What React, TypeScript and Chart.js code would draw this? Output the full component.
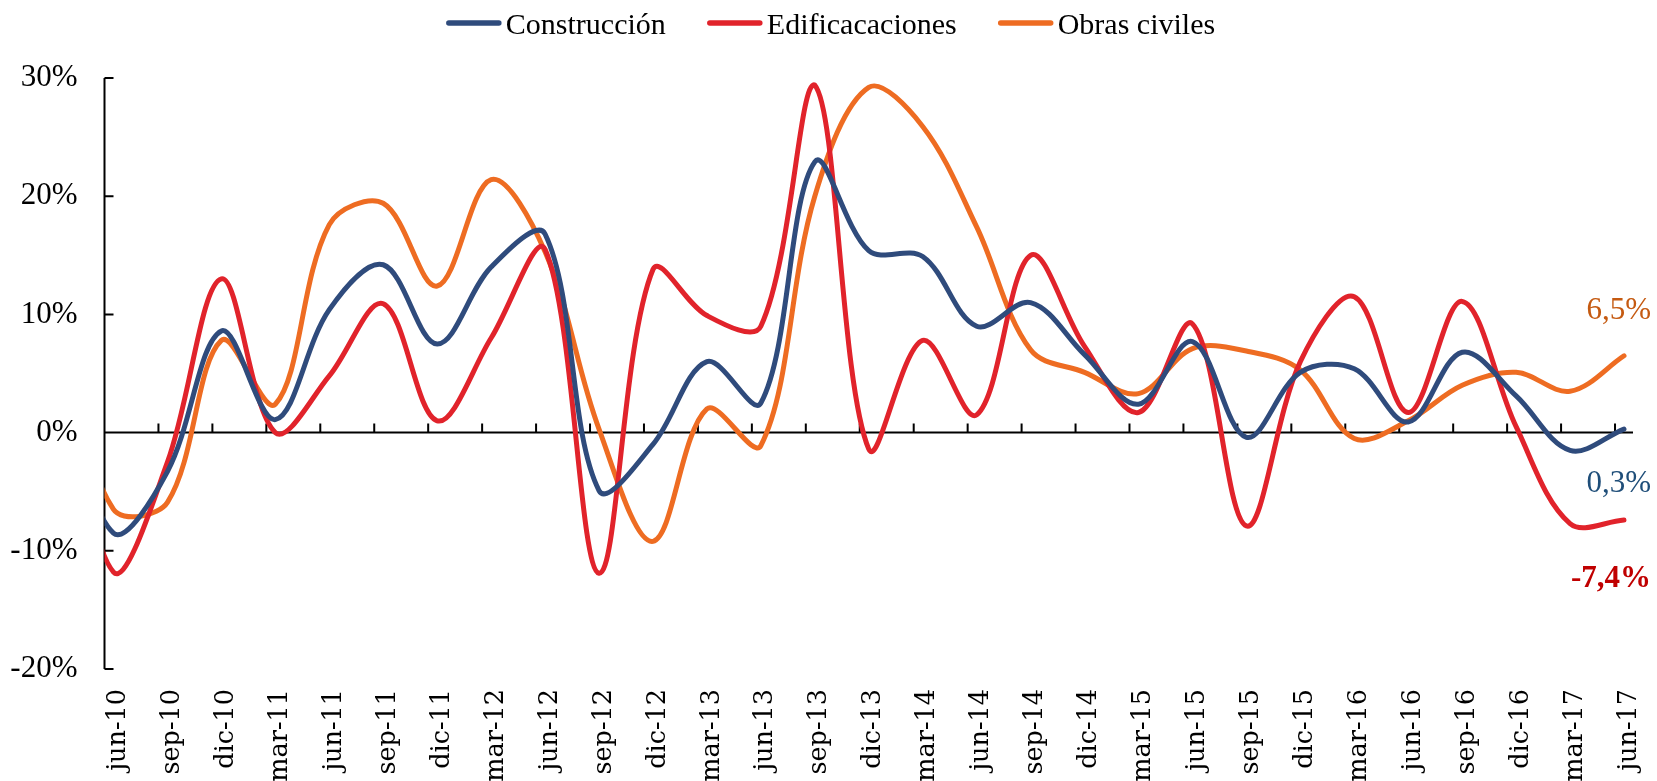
import { useEffect, useRef } from 'react';
import { Chart, registerables } from 'chart.js';

Chart.register(...registerables);

// Quarter labels (first entry, mar-10, lies just left of the axis and is clipped)
const categories = [
  'mar-10', 'jun-10', 'sep-10', 'dic-10', 'mar-11', 'jun-11', 'sep-11', 'dic-11',
  'mar-12', 'jun-12', 'sep-12', 'dic-12', 'mar-13', 'jun-13', 'sep-13', 'dic-13',
  'mar-14', 'jun-14', 'sep-14', 'dic-14', 'mar-15', 'jun-15', 'sep-15', 'dic-15',
  'mar-16', 'jun-16', 'sep-16', 'dic-16', 'mar-17', 'jun-17',
];

// Annual variation, %
const construccion = [
  5.0, -8.5, -3.3, 8.6, 1.1, 10.4, 14.2, 7.5, 14.0, 16.8, -4.9, -1.0, 6.0, 2.5, 22.9,
  15.4, 14.9, 9.0, 11.0, 6.6, 2.4, 7.7, -0.4, 5.1, 5.4, 0.9, 6.8, 3.1, -1.5, 0.3,
];
const edificaciones = [
  8.0, -11.8, -2.5, 13.0, 0.0, 4.8, 10.9, 1.0, 8.0, 15.5, -11.9, 13.8, 9.9, 9.0, 29.4,
  -1.4, 7.8, 1.5, 15.0, 7.3, 1.7, 9.2, -7.9, 6.0, 11.5, 1.7, 11.1, 0.5, -7.7, -7.4,
];
const obrasCiviles = [
  8.0, -6.5, -5.9, 7.8, 2.4, 17.6, 19.4, 12.4, 21.4, 15.3, 0.3, -9.2, 2.0, -1.1, 20.0,
  29.2, 25.9, 17.4, 7.0, 5.1, 3.3, 7.1, 6.9, 5.3, -0.5, 1.0, 4.0, 5.1, 3.5, 6.5,
];

const yTicks = [-20, -10, 0, 10, 20, 30];

const seriesNames = ['Construcción', 'Edificacaciones', 'Obras civiles'];
const seriesColors = ['#2F4B7C', '#E1232B', '#EE6C22'];
const endLabelColors = ['#1F4E79', '#C00000', '#C55A11'];

// month offset from jun-10 (points sit mid-month, tick marks at month start)
const monthOf = (i: number) => (i - 1) * 3 + 0.5;
const axisLabels = categories.slice(1);

const toPoints = (vals: number[]) => vals.map((v, i) => ({ x: monthOf(i), y: v }));
const fmt = (v: number) => v.toFixed(1).replace('.', ',') + '%';

const axesPlugin = {
  id: 'axesOverlay',
  beforeDatasetsDraw(chart: any) {
    const { ctx, chartArea, scales } = chart;
    const x = scales.x;
    const y = scales.y;
    ctx.save();
    ctx.strokeStyle = '#000';
    ctx.lineWidth = 2;
    ctx.beginPath();
    ctx.moveTo(chartArea.left, y.getPixelForValue(yTicks[yTicks.length - 1]));
    ctx.lineTo(chartArea.left, y.getPixelForValue(yTicks[0]));
    yTicks.forEach((v) => {
      const py = y.getPixelForValue(v);
      ctx.moveTo(chartArea.left, py);
      ctx.lineTo(chartArea.left + 9, py);
    });
    const y0 = y.getPixelForValue(0);
    ctx.moveTo(chartArea.left, y0);
    ctx.lineTo(chartArea.right, y0);
    for (let k = 1; k < axisLabels.length; k++) {
      const px = x.getPixelForValue(k * 3);
      ctx.moveTo(px, y0);
      ctx.lineTo(px, y0 - 9);
    }
    ctx.stroke();
    ctx.restore();
  },
};

const endLabelOffsets = [55, 59, -45];
const endLabelPlugin = {
  id: 'endLabels',
  afterDatasetsDraw(chart: any) {
    const { ctx } = chart;
    ctx.save();
    ctx.textAlign = 'right';
    ctx.textBaseline = 'middle';
    chart.data.datasets.forEach((ds: any, i: number) => {
      const meta = chart.getDatasetMeta(i);
      const pt = meta.data[meta.data.length - 1];
      const val = ds.data[ds.data.length - 1].y;
      ctx.font = (i === 1 ? 'bold ' : '') + '31px "Liberation Serif"';
      ctx.fillStyle = endLabelColors[i];
      ctx.fillText(fmt(val), pt.x + 27, pt.y + endLabelOffsets[i]);
    });
    ctx.restore();
  },
};

const legendPlugin = {
  id: 'lineLegend',
  afterDraw(chart: any) {
    const { ctx } = chart;
    ctx.save();
    ctx.font = '30px "Liberation Serif"';
    const lineLen = 56;
    const gapText = 4;
    const gapItem = 41;
    const items = chart.data.datasets.map((ds: any) => ({
      label: ds.label,
      color: ds.borderColor,
      w: ctx.measureText(ds.label).width,
    }));
    const total =
      items.reduce((s: number, it: any) => s + lineLen + gapText + it.w, 0) + gapItem * (items.length - 1);
    let x = chart.width / 2 - total / 2 + 2;
    const yMid = 23;
    items.forEach((it: any) => {
      ctx.strokeStyle = it.color;
      ctx.lineWidth = 5.5;
      ctx.lineCap = 'round';
      ctx.beginPath();
      ctx.moveTo(x + 3, yMid);
      ctx.lineTo(x + lineLen - 3, yMid);
      ctx.stroke();
      ctx.fillStyle = '#000';
      ctx.textBaseline = 'alphabetic';
      ctx.textAlign = 'left';
      ctx.fillText(it.label, x + lineLen + gapText, 33.5);
      x += lineLen + gapText + it.w + gapItem;
    });
    ctx.restore();
  },
};

export default function App() {
  const ref = useRef<HTMLCanvasElement>(null);
  useEffect(() => {
    if (!ref.current) return;
    const series = [construccion, edificaciones, obrasCiviles];
    const chart = new Chart(ref.current, {
      type: 'line',
      data: {
        datasets: series.map((vals, i) => ({
          label: seriesNames[i],
          data: toPoints(vals),
          borderColor: seriesColors[i],
          backgroundColor: seriesColors[i],
          borderWidth: 5,
          pointRadius: 0,
          tension: 0.35,
          fill: false,
          clip: { left: 0, top: 10, right: 10, bottom: 10 },
          borderCapStyle: 'round',
          borderJoinStyle: 'round',
        })) as any,
      },
      options: {
        animation: false,
        responsive: true,
        maintainAspectRatio: false,
        layout: { padding: { top: 78, right: 24, bottom: 0, left: 0 } },
        plugins: { legend: { display: false }, tooltip: { enabled: false } },
        scales: {
          x: {
            type: 'linear',
            min: 0,
            max: 85,
            grid: { display: false, drawTicks: false },
            border: { display: false },
            afterBuildTicks: (s: any) => {
              s.ticks = axisLabels.map((_, i) => ({ value: i * 3 + 0.5 }));
            },
            afterFit: (s: any) => {
              s.height = 112;
              s.paddingLeft = 0;
              s.paddingRight = 0;
            },
            ticks: {
              autoSkip: false,
              minRotation: 90,
              maxRotation: 90,
              padding: 20,
              labelOffset: 5,
              color: '#000',
              font: { family: '"DejaVu Serif", serif', size: 25.5 },
              callback: (_v: any, i: number) => axisLabels[i],
            },
          },
          y: {
            min: yTicks[0],
            max: yTicks[yTicks.length - 1],
            grid: { display: false, drawTicks: false },
            border: { display: false },
            afterBuildTicks: (s: any) => {
              s.ticks = yTicks.map((v) => ({ value: v }));
            },
            afterFit: (s: any) => {
              s.width = 104.5;
            },
            ticks: {
              padding: 27,
              color: '#000',
              font: { family: '"Liberation Serif"', size: 31 },
              callback: (v: any) => v + '%',
            },
          },
        },
      },
      plugins: [axesPlugin, endLabelPlugin, legendPlugin],
    });
    return () => chart.destroy();
  }, []);
  return (
    <div style={{ position: 'fixed', left: 0, top: 0, width: '100vw', height: '100vh', background: '#fff' }}>
      <canvas ref={ref} />
    </div>
  );
}
